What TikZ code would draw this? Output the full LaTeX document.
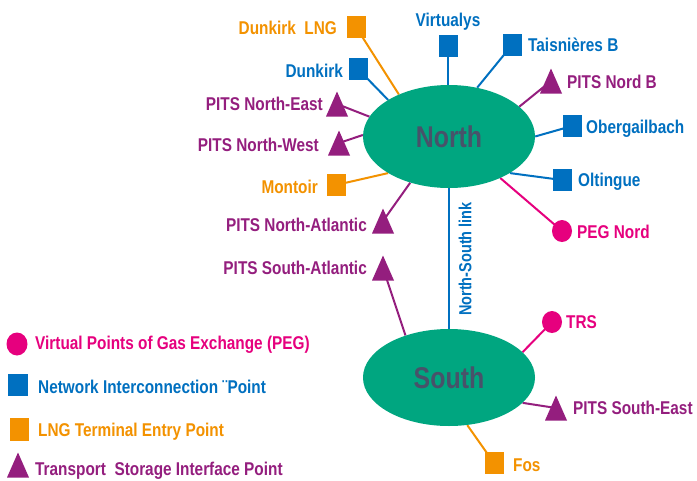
\documentclass[tikz,border=0pt]{standalone}
\usepackage{fontspec}
\newfontfamily\lblfont{Liberation Sans}[FakeStretch=0.83]
\usetikzlibrary{shapes.geometric}
\definecolor{cOrange}{RGB}{243,146,0}
\definecolor{cBlue}{RGB}{0,112,192}
\definecolor{cPurple}{RGB}{148,30,126}
\definecolor{cMagenta}{RGB}{230,0,126}
\definecolor{cGreen}{RGB}{0,166,128}
\definecolor{cDark}{RGB}{72,82,106}
\pgfdeclarelayer{bg}
\pgfsetlayers{bg,main}
\begin{document}
\begin{tikzpicture}[x=1pt,y=-1pt,
  lbl/.style={font=\lblfont\bfseries\fontsize{18.5}{20}\selectfont, inner sep=0pt, text height=13.3pt, text depth=0pt},
  sq/.style={rectangle, minimum width=19pt, minimum height=22pt, inner sep=0pt},
  blsq/.style={sq, fill=cBlue},
  orsq/.style={sq, fill=cOrange},
  tri/.style={rectangle, minimum width=22pt, minimum height=25pt, inner sep=0pt,
    path picture={\fill[cPurple] (path picture bounding box.south west) -- (path picture bounding box.south east) -- (path picture bounding box.north) -- cycle;}},
  peg/.style={ellipse, minimum width=20pt, minimum height=22pt, inner sep=0pt, fill=cMagenta},
  region/.style={ellipse, fill=cGreen, minimum width=172pt, inner sep=0pt, text=cDark,
    font=\lblfont\bfseries\fontsize{30}{31}\selectfont},
  link/.style={line width=2pt}
]
\begin{pgfonlayer}{bg}
\fill[white] (0,0) rectangle (697,480);
\end{pgfonlayer}
\useasboundingbox (0,0) rectangle (697,480);

% regions
\node[region, minimum height=103pt] (north) at (449,136.5) {North};
\node[region, minimum height=97pt] (south) at (449,377.5) {South};

% markers
\node[orsq] (dlng) at (356,27) {};
\node[blsq] (dunk) at (358,69) {};
\node[blsq] (virt) at (448,46) {};
\node[blsq] (tais) at (512,45) {};
\node[tri]  (pnb)  at (551,81) {};
\node[blsq] (ober) at (572,126) {};
\node[blsq] (olti) at (562,180) {};
\node[peg]  (pegn) at (562,231) {};
\node[tri]  (pne)  at (337,104) {};
\node[tri]  (pnw)  at (339,143) {};
\node[orsq] (mont) at (336,185) {};
\node[tri]  (pna)  at (383,221) {};
\node[tri]  (psa)  at (383,268) {};
\node[peg]  (trs)  at (552,322) {};
\node[tri]  (pse)  at (556,408) {};
\node[orsq] (fos)  at (494,463) {};

% connectors
\begin{pgfonlayer}{bg}
\draw[link,cOrange] (north.140) -- (dlng.center);
\draw[link,cBlue] (north.149) -- (dunk.center);
\draw[link,cBlue] (virt.center) -- (virt.center |- north.north);
\draw[link,cBlue] (north.60) -- (tais.center);
\draw[link,cPurple] (north.23) -- (pnb.center);
\draw[link,cBlue] (north.0) -- (ober.center);
\draw[link,cBlue] (north.-31) -- (olti.center);
\draw[link,cMagenta] (north.-39) -- (pegn.center);
\draw[link,cPurple] (north.166) -- (pne.center);
\draw[link,cPurple] (north.179) -- (pnw.center);
\draw[link,cOrange] (north.-149) -- (mont.center);
\draw[link,cPurple] (north.-130) -- (pna.center);
\draw[link,cBlue] (north.south) -- (south.north);
\draw[link,cPurple] (south.136) -- (psa.center);
\draw[link,cMagenta] (south.19) -- (trs.center);
\draw[link,cPurple] (south.-19) -- (pse.center);
\draw[link,cOrange] (south.-69) -- (fos.center);
\end{pgfonlayer}

\node[lbl, text=cBlue, rotate=90, font=\lblfont\bfseries\fontsize{17.5}{18}\selectfont, text height=12.5pt] (nslink) at (465,259) {North-South link};

% labels
\node[lbl, text=cOrange, anchor=east] (t-dlng) at (337,28) {Dunkirk\ \ LNG};
\node[lbl, text=cBlue] (t-virt) at (448,20) {Virtualys};
\node[lbl, text=cBlue, anchor=east] (t-dunk) at (343,71) {Dunkirk};
\node[lbl, text=cPurple, anchor=east] (t-pne) at (323,104) {PITS North-East};
\node[lbl, text=cPurple, anchor=east] (t-pnw) at (319,145) {PITS North-West};
\node[lbl, text=cOrange, anchor=east] (t-mont) at (318,187) {Montoir};
\node[lbl, text=cPurple, anchor=east] (t-pna) at (367,225) {PITS North-Atlantic};
\node[lbl, text=cPurple, anchor=east] (t-psa) at (367,268) {PITS South-Atlantic};
\node[lbl, text=cBlue, anchor=west] (t-tais) at (528,45) {Taisnières B};
\node[lbl, text=cPurple, anchor=west] (t-pnb) at (567,82) {PITS Nord B};
\node[lbl, text=cBlue, anchor=west] (t-ober) at (586,127) {Obergailbach};
\node[lbl, text=cBlue, anchor=west] (t-olti) at (578,180) {Oltingue};
\node[lbl, text=cMagenta, anchor=west] (t-pegn) at (577,232) {PEG Nord};
\node[lbl, text=cMagenta, anchor=west] (t-trs) at (566,322) {TRS};
\node[lbl, text=cPurple, anchor=west] (t-pse) at (573,408) {PITS South-East};
\node[lbl, text=cOrange, anchor=west] (t-fos) at (513,465) {Fos};

% legend
\node[peg, minimum width=21pt, minimum height=23pt] (lg1) at (17,344) {};
\node[lbl, text=cMagenta, anchor=west] (lt1) at (35,343) {Virtual Points of Gas Exchange (PEG)};
\node[blsq, minimum width=20pt] (lg2) at (18,385) {};
\node[lbl, text=cBlue, anchor=west] (lt2) at (38,387) {Network Interconnection ¨Point};
\node[orsq, minimum height=23pt] (lg3) at (19,429) {};
\node[lbl, text=cOrange, anchor=west] (lt3) at (38,430) {LNG Terminal Entry Point};
\node[tri] (lg4) at (18,465) {};
\node[lbl, text=cPurple, anchor=west] (lt4) at (35,469) {Transport\ \ Storage Interface Point};
\end{tikzpicture}
\end{document}
